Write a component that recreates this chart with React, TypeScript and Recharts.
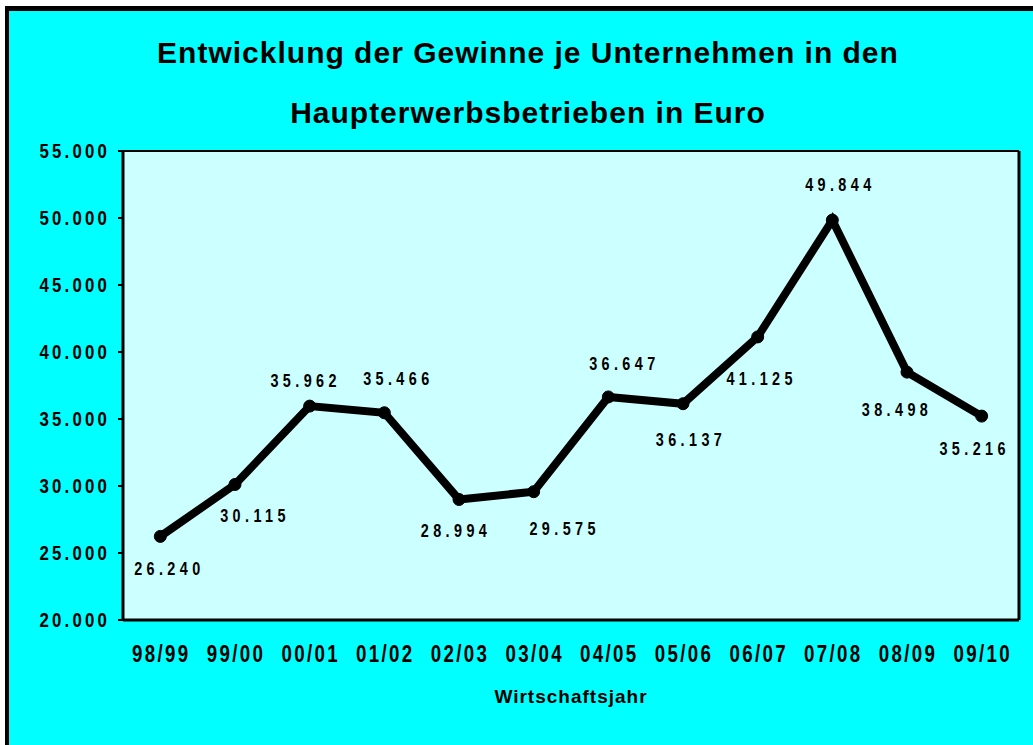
import { LineChart, Line, XAxis, YAxis, CartesianGrid, LabelList } from 'recharts'

const years = ['98/99', '99/00', '00/01', '01/02', '02/03', '03/04', '04/05', '05/06', '06/07', '07/08', '08/09', '09/10']
const profits = [26240, 30115, 35962, 35466, 28994, 29575, 36647, 36137, 41125, 49844, 38498, 35216]
const yTicks = [20000, 25000, 30000, 35000, 40000, 45000, 50000, 55000]

// where each value label sits relative to its point
const labelOffsets: [number, number][] = [
  [7, 32], [18, 31], [-6, -26], [12, -34], [-5, 31], [29, 37],
  [14, -34], [6, 36], [2, 41], [6, -36], [-12, 37], [-9, 32],
]

const data = years.map((year, i) => ({ year, value: profits[i] }))

const FONT = '"Liberation Sans", Arial, sans-serif'

const fmtThousands = (v: number) => String(v).replace(/\B(?=(\d{3})+(?!\d))/g, '.')

// Arial Narrow is not around, so squeeze Liberation Sans horizontally
function NarrowText({ x, y, anchor, size, spacing, squeeze = 0.8, baseline = 'central', children }: any) {
  return (
    <text
      transform={`translate(${x},${y}) scale(${squeeze},1)`}
      textAnchor={anchor}
      dominantBaseline={baseline}
      fontFamily={FONT}
      fontWeight="bold"
      fontSize={size}
      letterSpacing={spacing}
      fill="#000"
    >
      {children}
    </text>
  )
}

function ValueLabel(props: any) {
  const { x, y, index, value } = props
  const [dx, dy] = labelOffsets[index] ?? [0, -20]
  return (
    <NarrowText x={x + dx + 2} y={y + dy} anchor="middle" size={18} spacing={5.5}>
      {fmtThousands(value)}
    </NarrowText>
  )
}

function XTick(props: any) {
  const { x, y, payload } = props
  return (
    <NarrowText x={x + 1} y={y + 11} anchor="middle" size={24} spacing={3} squeeze={0.78}>
      {payload.value}
    </NarrowText>
  )
}

function YTick(props: any) {
  const { x, y, payload } = props
  return (
    <NarrowText x={x + 2} y={y} anchor="end" size={21} spacing={4}>
      {fmtThousands(payload.value)}
    </NarrowText>
  )
}

const titleStyle = {
  position: 'absolute' as const,
  left: 0,
  width: 1056,
  textAlign: 'center' as const,
  fontFamily: FONT,
  fontWeight: 'bold',
  fontSize: 30,
  lineHeight: '30px',
  letterSpacing: 1,
  color: '#000',
}

export default function App() {
  return (
    <div style={{ position: 'fixed', inset: 0, overflow: 'hidden', background: '#fff' }}>
      <div
        style={{
          position: 'absolute',
          left: 5,
          top: 6,
          width: 1060,
          height: 780,
          background: '#00FFFF',
          borderLeft: '4px solid #000',
          borderTop: '5px solid #000',
        }}
      />
      <div style={{ ...titleStyle, top: 38 }}>Entwicklung der Gewinne je Unternehmen in den</div>
      <div style={{ ...titleStyle, top: 98 }}>Haupterwerbsbetrieben in Euro</div>
      <div style={{ position: 'absolute', left: 0, top: 0 }}>
        <LineChart
          width={1033}
          height={745}
          data={data}
          margin={{ top: 151, right: 0, bottom: 35, left: 0 }}
        >
          <CartesianGrid vertical={false} stroke="#000" strokeWidth={2} fill="#CCFFFF" />
          <XAxis
            dataKey="year"
            scale="band"
            height={90}
            tickLine={false}
            tickSize={0}
            tickMargin={23}
            axisLine={{ stroke: '#000', strokeWidth: 3 }}
            tick={<XTick />}
            interval={0}
            label={{
              value: 'Wirtschaftsjahr',
              position: 'insideBottom',
              offset: 7,
              fill: '#000',
              fontFamily: FONT,
              fontWeight: 'bold',
              fontSize: 19,
              letterSpacing: 1,
            }}
          />
          <YAxis
            yAxisId="left"
            width={123}
            domain={[20000, 55000]}
            ticks={yTicks}
            interval={0}
            tickSize={5}
            tickMargin={10}
            axisLine={{ stroke: '#000', strokeWidth: 3 }}
            tickLine={{ stroke: '#000', strokeWidth: 2 }}
            tick={<YTick />}
          />
          <YAxis
            yAxisId="right"
            orientation="right"
            width={14}
            domain={[20000, 55000]}
            tick={false}
            tickLine={false}
            axisLine={{ stroke: '#000', strokeWidth: 3 }}
          />
          <Line
            yAxisId="left"
            dataKey="value"
            type="linear"
            stroke="#000"
            strokeWidth={8}
            dot={{ r: 6, fill: '#000', stroke: '#000', strokeWidth: 1 }}
            isAnimationActive={false}
          >
            <LabelList dataKey="value" content={<ValueLabel />} />
          </Line>
        </LineChart>
      </div>
    </div>
  )
}
